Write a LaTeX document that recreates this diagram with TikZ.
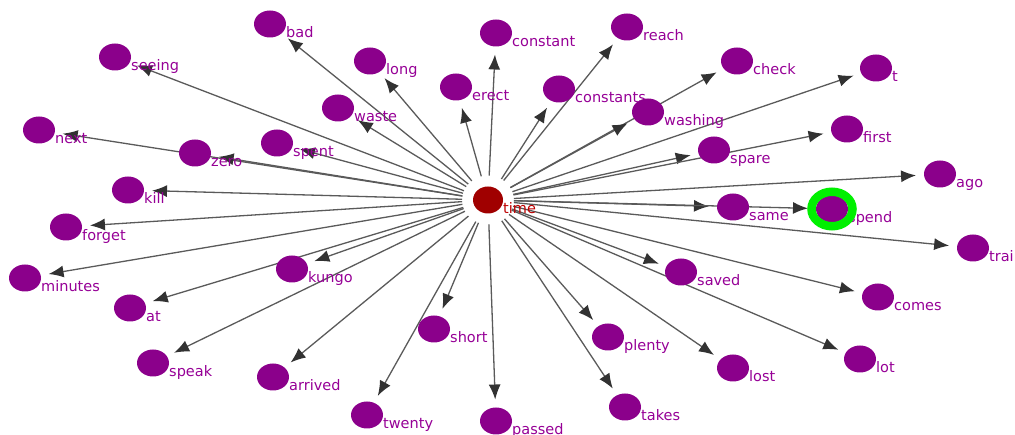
\documentclass[tikz,border=0pt]{standalone}
\usepackage{fontspec}
\setmainfont{DejaVu Sans}
\usepackage{xcolor}
\usetikzlibrary{arrows.meta,backgrounds,calc,positioning,shapes.geometric}
\definecolor{nodepurple}{RGB}{139,0,139}
\definecolor{lblpurple}{RGB}{150,0,150}
\definecolor{timered}{RGB}{160,0,0}
\definecolor{timetext}{RGB}{190,0,0}
\definecolor{linkgray}{RGB}{90,90,90}
\definecolor{tipgray}{RGB}{50,50,50}
\definecolor{ringgreen}{RGB}{0,240,0}
\tikzset{%
	lbl/.style  = {anchor=base west, inner sep=0pt, text=lblpurple, font=\fontsize{14.5}{17}\selectfont}, % word label
	word/.style = {ellipse, fill=nodepurple, minimum width=32, minimum height=27, inner sep=0pt, outer sep=0pt,
		append after command={node [lbl] (\tikzlastnode-lbl) at (\tikzlastnode.east |- \tikzlastnode.south) {#1}}},
	hub/.style  = {ellipse, fill=timered, minimum width=30, minimum height=27, inner sep=0pt, outer sep=0pt}, % centre word
	ring/.style = {ellipse, draw=ringgreen, line width=8.5pt, minimum width=41, minimum height=34.5, inner sep=0pt},
	link/.style = {draw=linkgray, line width=1.3pt, -{Latex[length=15pt,width=12pt,color=tipgray]}, shorten <=11pt, shorten >=8pt},
}
\begin{document}
\begin{tikzpicture}[x=1pt,y=-1pt]
	\useasboundingbox (0,0) rectangle (1015,435);
	% centre word
	\node [hub] (time) at (488,200) {};
	\node [lbl,text=timetext] (time-lbl) at (time.east |- time.south) {time};
	
	% upper half
	\node [word=bad] (bad) at (270,24) {};
	\node [word=seeing] (seeing) at (115,57) {};
	\node [word=long] (long) at (370,61) {};
	\node [word=constant] (constant) at (496,33) {};
	\node [word=reach] (reach) at (627,27) {};
	\node [word=check] (check) at (737,61) {};
	\node [word=t] (t) at (876,68) {};
	\node [word=erect] (erect) at (456,87) {};
	\node [word=constants] (constants) at (559,89) {};
	\node [word=washing] (washing) at (648,112) {};
	\node [word=waste] (waste) at (338,108) {};
	\node [word=next] (next) at (39,130) {};
	\node [word=zero] (zero) at (195,153) {};
	\node [word=spent] (spent) at (277,143) {};
	\node [word=spare] (spare) at (714,150) {};
	\node [word=first] (first) at (847,129) {};
	\node [word=ago] (ago) at (940,174) {};
	\node [word=kill] (kill) at (128,190) {};
	\node [word=forget] (forget) at (66,227) {};
	\node [word=same] (same) at (733,207) {};
	\node [word=spend] (spend) at (832,209) {};
	\node [ring] (spendring) at (spend) {};
	
	% lower half
	\node [word=trai] (trai) at (973,248) {};
	\node [word=minutes] (minutes) at (25,278) {};
	\node [word=kungo] (kungo) at (292,269) {};
	\node [word=at] (at) at (130,308) {};
	\node [word=saved] (saved) at (681,272) {};
	\node [word=comes] (comes) at (878,297) {};
	\node [word=short] (short) at (434,329) {};
	\node [word=plenty] (plenty) at (608,337) {};
	\node [word=speak] (speak) at (153,363) {};
	\node [word=arrived] (arrived) at (273,377) {};
	\node [word=lost] (lost) at (733,368) {};
	\node [word=lot] (lot) at (860,359) {};
	\node [word=twenty] (twenty) at (367,415) {};
	\node [word=passed] (passed) at (496,421) {};
	\node [word=takes] (takes) at (625,407) {};
	
	\begin{scope}[on background layer]
		\draw [link] (time) -- (bad);
		\draw [link] (time) -- (seeing);
		\draw [link] (time) -- (long);
		\draw [link] (time) -- (constant);
		\draw [link] (time) -- (reach);
		\draw [link] (time) -- (check);
		\draw [link] (time) -- (t);
		\draw [link] (time) -- (erect);
		\draw [link] (time) -- (constants);
		\draw [link] (time) -- (washing);
		\draw [link] (time) -- (waste);
		\draw [link] (time) -- (next);
		\draw [link] (time) -- (zero);
		\draw [link] (time) -- (spent);
		\draw [link] (time) -- (spare);
		\draw [link] (time) -- (first);
		\draw [link] (time) -- (ago);
		\draw [link] (time) -- (kill);
		\draw [link] (time) -- (forget);
		\draw [link] (time) -- (same);
		\draw [link] (time) -- (spend);
		\draw [link] (time) -- (trai);
		\draw [link] (time) -- (minutes);
		\draw [link] (time) -- (kungo);
		\draw [link] (time) -- (at);
		\draw [link] (time) -- (saved);
		\draw [link] (time) -- (comes);
		\draw [link] (time) -- (short);
		\draw [link] (time) -- (plenty);
		\draw [link] (time) -- (speak);
		\draw [link] (time) -- (arrived);
		\draw [link] (time) -- (lost);
		\draw [link] (time) -- (lot);
		\draw [link] (time) -- (twenty);
		\draw [link] (time) -- (passed);
		\draw [link] (time) -- (takes);
	\end{scope}
\end{tikzpicture}
\end{document}
